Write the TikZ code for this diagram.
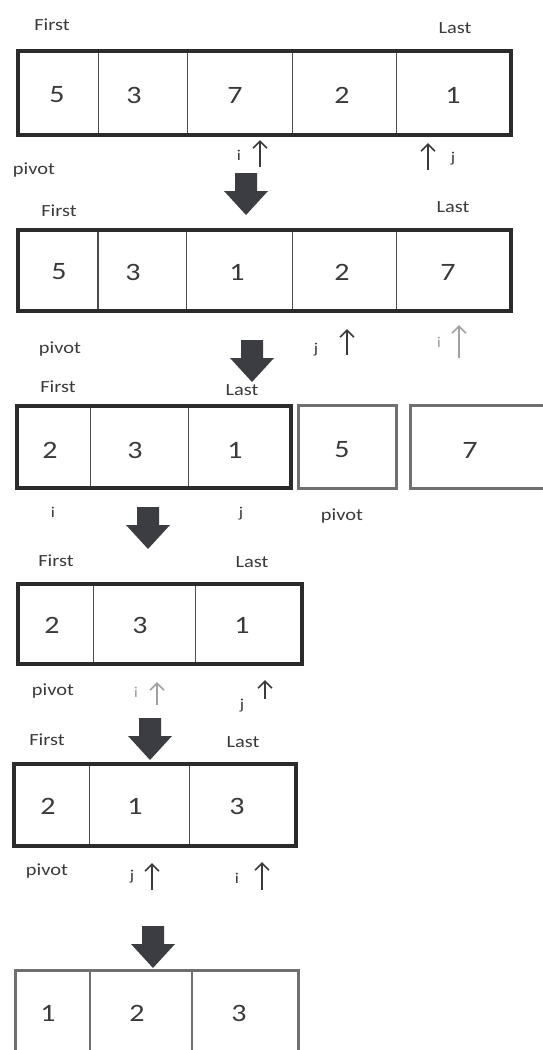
\documentclass[tikz,border=0pt]{standalone}
\usepackage{fontspec}
\setmainfont[FakeStretch=1.2]{Carlito}
\usetikzlibrary{arrows.meta}
\definecolor{ink}{HTML}{2B2B2B}
\definecolor{txt}{HTML}{3A3A3A}
\definecolor{boxgray}{HTML}{707070}
\definecolor{faint}{HTML}{A0A0A0}
\definecolor{arrowfill}{HTML}{3C3D42}
\begin{document}
\begin{tikzpicture}[x=1pt,y=-1pt,
  frame/.style={draw=ink,line width=4.5pt},
  grayframe/.style={draw=boxgray,line width=3pt},
  divider/.style={draw=ink!85,line width=1pt},
  graydivider/.style={draw=boxgray,line width=1.5pt},
  num/.style={font=\fontsize{25}{25}\selectfont,text=txt,inner sep=0pt},
  lbl/.style={font=\fontsize{17}{17}\selectfont,text=txt,inner sep=0pt,anchor=base},
  ptr/.style={font=\fontsize{15}{15}\selectfont,text=txt,inner sep=0pt,anchor=base},
  fptr/.style={ptr,text=faint},
  up/.style={draw=txt,line width=1.6pt,-{Straight Barb[length=7pt,width=14pt]}},
  fup/.style={up,draw=faint},
  pics/bigarrow/.style={code={\fill[arrowfill] (-11,0) -- (11,0) -- (11,18) -- (22,18) -- (0,42) -- (-22,18) -- (-11,18) -- cycle;}}
]
\useasboundingbox (0,0) rectangle (542,1050);
\fill[white] (0,0) rectangle (542,1050);

% ---------- Row 1 ----------
\draw[frame] (18,51) rectangle (511,135);
\foreach \x in {98,187,292,396} \draw[divider] (\x,53) -- (\x,133);
\node[num] (r1a) at (57,95) {5};
\node[num] (r1b) at (134,95) {3};
\node[num] (r1c) at (235,95) {7};
\node[num] (r1d) at (342,95) {2};
\node[num] (r1e) at (453,95) {1};
\node[lbl] (r1first) at (52,30) {First};
\node[lbl] (r1last) at (455,33) {Last};
\node[lbl] (r1pivot) at (34,174) {pivot};
\node[ptr] (r1i) at (239,160) {i};
\node[ptr] (r1j) at (453,162) {j};
\coordinate (r1ib) at (260,167); \coordinate (r1it) at (260,140);
\draw[up] (r1ib) -- (r1it);
\coordinate (r1jb) at (428,170); \coordinate (r1jt) at (428,143);
\draw[up] (r1jb) -- (r1jt);
\pic at (246,173) {bigarrow};

% ---------- Row 2 ----------
\draw[frame] (18,230) rectangle (511,311);
\draw[divider,line width=2pt] (98,232) -- (98,309);
\foreach \x in {186,292,396} \draw[divider] (\x,232) -- (\x,309);
\node[num] (r2a) at (59,272) {5};
\node[num] (r2b) at (133,272) {3};
\node[num] (r2c) at (237,272) {1};
\node[num] (r2d) at (342,272) {2};
\node[num] (r2e) at (448,272) {7};
\node[lbl] (r2first) at (59,216) {First};
\node[lbl] (r2last) at (453,212) {Last};
\node[lbl] (r2pivot) at (60,353) {pivot};
\node[ptr] (r2j) at (316,353) {j};
\node[fptr] (r2i) at (439,347) {i};
\coordinate (r2jb) at (347,355); \coordinate (r2jt) at (347,329);
\draw[up] (r2jb) -- (r2jt);
\coordinate (r2ib) at (459,358); \coordinate (r2it) at (459,325);
\draw[fup] (r2ib) -- (r2it);
\pic at (252,340) {bigarrow};

% ---------- Row 3 ----------
\draw[frame] (17,406) rectangle (291,488);
\foreach \x in {90,188} \draw[divider] (\x,408) -- (\x,486);
\draw[grayframe] (298.5,405.5) rectangle (396.5,488.5);
\draw[grayframe] (410.5,405.5) rectangle (560,488.5);
\node[num] (r3a) at (50,450) {2};
\node[num] (r3b) at (135,450) {3};
\node[num] (r3c) at (235,450) {1};
\node[num] (r3d) at (342,450) {5};
\node[num] (r3e) at (470,450) {7};
\node[lbl] (r3first) at (58,392) {First};
\node[lbl] (r3last) at (242,395) {Last};
\node[ptr] (r3i) at (53,517) {i};
\node[ptr] (r3j) at (241,517) {j};
\node[lbl] (r3pivot) at (342,520) {pivot};
\pic at (148,507) {bigarrow};

% ---------- Row 4 ----------
\draw[frame] (18,584) rectangle (302,664);
\foreach \x in {93,195} \draw[divider] (\x,586) -- (\x,662);
\node[num] (r4a) at (52,625) {2};
\node[num] (r4b) at (140,625) {3};
\node[num] (r4c) at (242,625) {1};
\node[lbl] (r4first) at (56,566) {First};
\node[lbl] (r4last) at (252,567) {Last};
\node[lbl] (r4pivot) at (53,695) {pivot};
\node[fptr] (r4i) at (136,697) {i};
\node[ptr] (r4j) at (242,709) {j};
\coordinate (r4ib) at (157,705); \coordinate (r4it) at (157,682);
\draw[fup] (r4ib) -- (r4it);
\coordinate (r4jb) at (265,699); \coordinate (r4jt) at (265,680);
\draw[up] (r4jb) -- (r4jt);
\pic at (150,718) {bigarrow};

% ---------- Row 5 ----------
\draw[frame] (14,764) rectangle (296,846);
\foreach \x in {89,189} \draw[divider] (\x,766) -- (\x,844);
\node[num] (r5a) at (48,806) {2};
\node[num] (r5b) at (135,806) {1};
\node[num] (r5c) at (237,806) {3};
\node[lbl] (r5first) at (47,745) {First};
\node[lbl] (r5last) at (243,747) {Last};
\node[lbl] (r5pivot) at (47,875) {pivot};
\node[ptr] (r5j) at (132,880) {j};
\node[ptr] (r5i) at (237,883) {i};
\coordinate (r5jb) at (152,890); \coordinate (r5jt) at (152,863);
\draw[up] (r5jb) -- (r5jt);
\coordinate (r5ib) at (262,890); \coordinate (r5it) at (262,862);
\draw[up] (r5ib) -- (r5it);
\pic at (153,926) {bigarrow};

% ---------- Row 6 ----------
\draw[grayframe] (15.5,970.5) rectangle (298.5,1065);
\foreach \x in {90,192} \draw[graydivider] (\x,972) -- (\x,1065);
\node[num] (r6a) at (48,1013) {1};
\node[num] (r6b) at (137,1013) {2};
\node[num] (r6c) at (239,1013) {3};
\end{tikzpicture}
\end{document}
